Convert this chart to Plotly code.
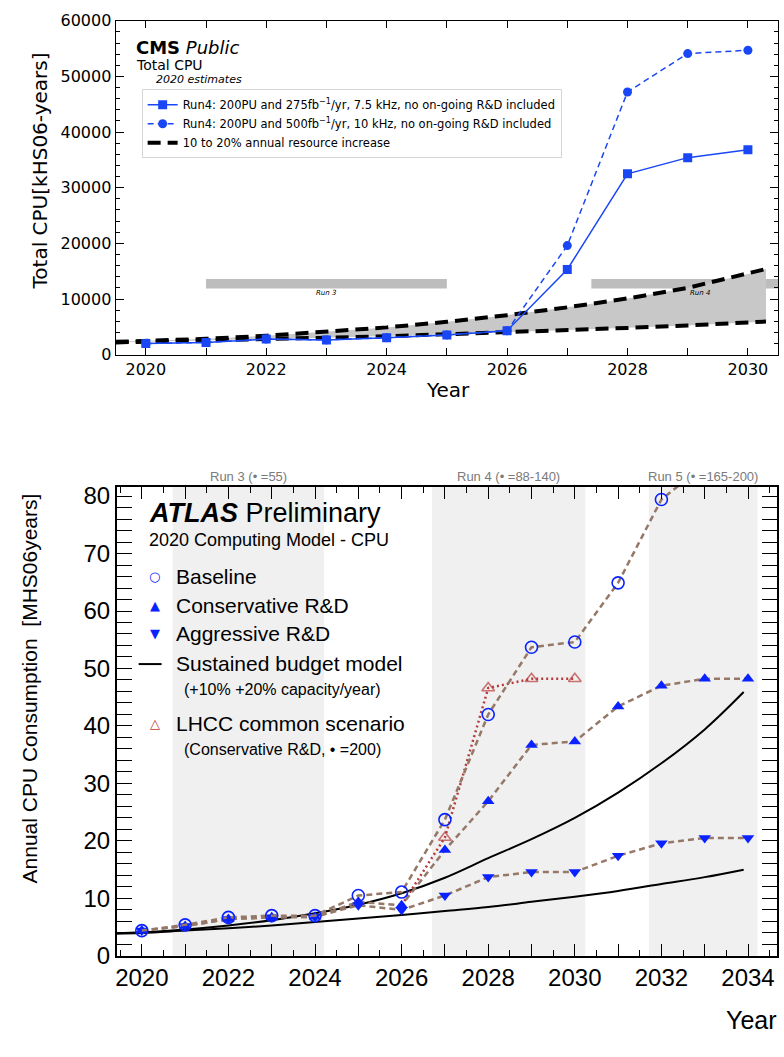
import plotly.graph_objects as go

# ---------------- CMS: total CPU (kHS06-years) ----------------
cms_years = [2020, 2021, 2022, 2023, 2024, 2025, 2026, 2027, 2028, 2029, 2030]
cms_275 = [2000, 2200, 2800, 2650, 3050, 3550, 4300, 15300, 32500, 35400, 36800]
cms_500 = [2000, 2200, 2800, 2650, 3050, 3550, 4300, 19600, 47200, 54100, 54700]

cms_budget_x = [2019.5, 2020, 2021, 2022, 2023, 2024, 2025, 2026, 2027, 2028, 2029, 2030, 2030.3]
cms_budget_hi = [2300, 2450, 2850, 3400, 4100, 4900, 5900, 7100, 8500, 10100, 12000, 14500, 15400]
cms_budget_lo = [2200, 2300, 2550, 2800, 3050, 3300, 3650, 4000, 4400, 4800, 5250, 5800, 5950]

cms_runs = ["Run 3", "Run 4"]
cms_run_start = [2021, 2027.4]
cms_run_end = [2025, 2030.5]
cms_run_label_x = [2023, 2029.2]
cms_run_band = [11900, 13600]

# ---------------- ATLAS: annual CPU consumption (MHS06*years) ----------------
atlas_years = [2020, 2021, 2022, 2023, 2024, 2025, 2026, 2027, 2028, 2029, 2030, 2031, 2032, 2033, 2034]
baseline_years = atlas_years[:14]
baseline = [4.4, 5.4, 6.7, 7.0, 7.0, 10.5, 11.1, 23.7, 42.0, 53.7, 54.6, 64.9, 79.4, 85.5]
conservative = [4.4, 5.2, 6.4, 6.7, 6.8, 9.4, 8.8, 18.4, 26.9, 36.7, 37.3, 43.4, 47.0, 48.2, 48.2]
aggressive = [4.4, 5.2, 6.4, 6.7, 6.8, 8.8, 8.0, 10.5, 13.7, 14.6, 14.6, 17.4, 19.6, 20.5, 20.5]
lhcc_years = [2026, 2027, 2028, 2029, 2030]
lhcc = [8.8, 20.6, 46.6, 48.2, 48.2]

budget_x = [2019.4, 2020, 2021, 2022, 2023, 2024, 2025, 2026, 2027, 2028, 2029, 2030,
            2031, 2032, 2033, 2033.9]
budget_hi = [3.9, 4.1, 4.6, 5.3, 6.2, 7.4, 8.9, 10.9, 13.6, 17.0, 20.3, 24.0,
             28.4, 33.5, 39.4, 45.9]
budget_lo = [3.9, 4.0, 4.4, 4.8, 5.3, 5.9, 6.5, 7.1, 7.8, 8.5, 9.4, 10.3,
             11.3, 12.5, 13.7, 15.0]

atlas_runs = ["Run 3 (\u2022 =55)", "Run 4 (\u2022 =88-140)", "Run 5 (\u2022 =165-200)"]
atlas_run_start = [2020.71, 2026.70, 2031.71]
atlas_run_end = [2024.21, 2030.24, 2034.22]

atlas_odd_years = [2021, 2023, 2025, 2027, 2029, 2031, 2033]

W, H = 784, 1057


def px(x):
    return x / W


def py(y):
    return 1 - y / H


CMS_FONT = "DejaVu Sans"
ATLAS_FONT = "Liberation Sans, Arial"
CMS_BLUE = "#1a47f5"
ATLAS_BLUE = "#0a22ff"
BROWN = "#957868"
LHCC_RED = "#b83a3a"

fig = go.Figure()

# --- CMS panel ---
fig.add_trace(go.Scatter(x=cms_budget_x, y=cms_budget_lo, mode="lines", line=dict(width=0),
                         showlegend=False, hoverinfo="skip", xaxis="x", yaxis="y"))
fig.add_trace(go.Scatter(x=cms_budget_x, y=cms_budget_hi, mode="lines", line=dict(width=0),
                         fill="tonexty", fillcolor="#c8c8c8", showlegend=False,
                         hoverinfo="skip", xaxis="x", yaxis="y"))
fig.add_trace(go.Scatter(x=cms_budget_x, y=cms_budget_lo, mode="lines",
                         line=dict(color="black", width=4, dash="13px,7px"),
                         showlegend=False, xaxis="x", yaxis="y"))
fig.add_trace(go.Scatter(x=cms_budget_x, y=cms_budget_hi, mode="lines",
                         line=dict(color="black", width=4, dash="13px,7px"),
                         name="10 to 20% annual resource increase", legendrank=3,
                         xaxis="x", yaxis="y"))
fig.add_trace(go.Scatter(x=cms_years, y=cms_500, mode="lines+markers",
                         line=dict(color=CMS_BLUE, width=1.5, dash="6px,4px"),
                         marker=dict(symbol="circle", size=9, color=CMS_BLUE),
                         name="Run4: 200PU and 500fb<sup>\u22121</sup>/yr, 10 kHz, no on-going R&D included",
                         legendrank=2, xaxis="x", yaxis="y"))
fig.add_trace(go.Scatter(x=cms_years, y=cms_275, mode="lines+markers",
                         line=dict(color=CMS_BLUE, width=1.5),
                         marker=dict(symbol="square", size=9, color=CMS_BLUE),
                         name="Run4: 200PU and 275fb<sup>\u22121</sup>/yr, 7.5 kHz, no on-going R&D included",
                         legendrank=1, xaxis="x", yaxis="y"))

shapes = []
annotations = []
for name, x0, x1, xl in zip(cms_runs, cms_run_start, cms_run_end, cms_run_label_x):
    shapes.append(dict(type="rect", xref="x", yref="y", x0=x0, x1=x1,
                       y0=cms_run_band[0], y1=cms_run_band[1],
                       fillcolor="#bdbdbd", line=dict(width=0), layer="below"))
    annotations.append(dict(xref="x", yref="y", x=xl, y=cms_run_band[0] - 900,
                            text=f"<i>{name}</i>", showarrow=False,
                            font=dict(family=CMS_FONT, size=7, color="black")))

# --- ATLAS panel ---
for name, x0, x1 in zip(atlas_runs, atlas_run_start, atlas_run_end):
    shapes.append(dict(type="rect", xref="x2", yref="y2 domain", x0=x0, x1=x1, y0=0, y1=1,
                       fillcolor="#f0f0f0", line=dict(width=0), layer="below"))
    annotations.append(dict(xref="x2", yref="paper", x=(x0 + x1) / 2, y=py(477), text=name,
                            showarrow=False, yanchor="middle",
                            font=dict(family=ATLAS_FONT, size=13, color="#7a7a7a")))

fig.add_trace(go.Scatter(x=budget_x, y=budget_hi, mode="lines", line=dict(color="black", width=2, shape="spline"),
                         showlegend=False, xaxis="x2", yaxis="y2"))
fig.add_trace(go.Scatter(x=budget_x, y=budget_lo, mode="lines", line=dict(color="black", width=2, shape="spline"),
                         showlegend=False, xaxis="x2", yaxis="y2"))
fig.add_trace(go.Scatter(x=lhcc_years, y=lhcc, mode="lines+markers",
                         line=dict(color=LHCC_RED, width=2.5, dash="2px,3px"),
                         marker=dict(symbol="triangle-up-open", size=[0, 11, 11, 11, 11], color=LHCC_RED,
                                     line=dict(width=1.6, color=LHCC_RED)),
                         showlegend=False, xaxis="x2", yaxis="y2"))
fig.add_trace(go.Scatter(x=atlas_years, y=aggressive, mode="lines+markers",
                         line=dict(color=BROWN, width=2.5, dash="6px,4px"),
                         marker=dict(symbol="triangle-down", size=11, color=ATLAS_BLUE),
                         showlegend=False, xaxis="x2", yaxis="y2"))
fig.add_trace(go.Scatter(x=atlas_years, y=conservative, mode="lines+markers",
                         line=dict(color=BROWN, width=2.5, dash="6px,4px"),
                         marker=dict(symbol="triangle-up", size=11, color=ATLAS_BLUE),
                         showlegend=False, xaxis="x2", yaxis="y2"))
fig.add_trace(go.Scatter(x=baseline_years, y=baseline, mode="lines+markers",
                         line=dict(color=BROWN, width=2.5, dash="6px,4px"),
                         marker=dict(symbol="circle-open", size=12, color=ATLAS_BLUE,
                                     line=dict(width=1.6, color=ATLAS_BLUE)),
                         showlegend=False, xaxis="x2", yaxis="y2"))
# empty trace so the odd-year tick axis is laid out
fig.add_trace(go.Scatter(x=[], y=[], showlegend=False, xaxis="x3", yaxis="y2"))

# --- CMS texts ---
annotations += [
    dict(xref="paper", yref="paper", x=px(132), y=py(39), xanchor="left", yanchor="middle",
         text="<b>CMS</b> <i>Public</i>", showarrow=False,
         font=dict(family=CMS_FONT, size=18, color="black")),
    dict(xref="paper", yref="paper", x=px(132), y=py(57), xanchor="left", yanchor="middle",
         text="Total CPU", showarrow=False, font=dict(family=CMS_FONT, size=14, color="black")),
    dict(xref="paper", yref="paper", x=px(152), y=py(72), xanchor="left", yanchor="middle",
         text="<i>2020 estimates</i>", showarrow=False, font=dict(family=CMS_FONT, size=11, color="black")),
    dict(xref="paper", yref="paper", x=px(38), y=py(165), textangle=-90, xanchor="center", yanchor="middle",
         text="Total CPU[kHS06-years]", showarrow=False, font=dict(family=CMS_FONT, size=20, color="black")),
    dict(xref="paper", yref="paper", x=px(447), y=py(389), xanchor="center", yanchor="middle",
         text="Year", showarrow=False, font=dict(family=CMS_FONT, size=20, color="black")),
]

# --- ATLAS texts and key ---
annotations += [
    dict(xref="paper", yref="paper", x=px(145), y=py(515), xanchor="left", yanchor="middle",
         text="<b><i>ATLAS</i></b> Preliminary", showarrow=False,
         font=dict(family=ATLAS_FONT, size=27, color="black")),
    dict(xref="paper", yref="paper", x=px(145), y=py(542), xanchor="left", yanchor="middle",
         text="2020 Computing Model - CPU", showarrow=False,
         font=dict(family=ATLAS_FONT, size=18, color="black")),
    dict(xref="paper", yref="paper", x=px(28), y=py(694), textangle=-90, xanchor="center", yanchor="middle",
         text="Annual CPU Consumption  [MHS06years]", showarrow=False,
         font=dict(family=ATLAS_FONT, size=21, color="black")),
    dict(xref="paper", yref="paper", x=px(779), y=py(1032), xanchor="right", yanchor="middle",
         text="Year", showarrow=False, font=dict(family=ATLAS_FONT, size=25, color="black")),
]

key_rows = [
    ("\u25CB", ATLAS_BLUE, "Baseline", 580),
    ("\u25B2", ATLAS_BLUE, "Conservative R&D", 609),
    ("\u25BC", ATLAS_BLUE, "Aggressive R&D", 638),
    (None, "black", "Sustained budget model", 668),
    ("\u25B3", LHCC_RED, "LHCC common scenario", 730),
]
for sym, col, label, yy in key_rows:
    if sym is None:
        shapes.append(dict(type="line", xref="paper", yref="paper", x0=px(137), x1=px(160),
                           y0=py(669), y1=py(669), line=dict(color="black", width=2)))
    else:
        annotations.append(dict(xref="paper", yref="paper", x=px(153), y=py(yy), xanchor="center",
                                yanchor="middle", text=sym, showarrow=False,
                                font=dict(family="DejaVu Sans", size=13, color=col)))
    annotations.append(dict(xref="paper", yref="paper", x=px(172), y=py(yy), xanchor="left",
                            yanchor="middle", text=label, showarrow=False,
                            font=dict(family=ATLAS_FONT, size=21, color="black")))
annotations += [
    dict(xref="paper", yref="paper", x=px(180), y=py(695), xanchor="left", yanchor="middle",
         text="(+10% +20% capacity/year)", showarrow=False,
         font=dict(family=ATLAS_FONT, size=16, color="black")),
    dict(xref="paper", yref="paper", x=px(180), y=py(756), xanchor="left", yanchor="middle",
         text="(Conservative R&D, \u2022 =200)", showarrow=False,
         font=dict(family=ATLAS_FONT, size=16, color="black")),
]

cms_axis = dict(showline=True, linecolor="black", linewidth=1.2, mirror="allticks",
                ticks="inside", tickcolor="black", showgrid=False, zeroline=False)
atlas_axis = dict(showline=True, linecolor="black", linewidth=1.6, mirror="allticks",
                  ticks="inside", tickcolor="black", showgrid=False, zeroline=False)
atlas_xrange = [2019.42, 2034.67]

fig.update_layout(
    width=W, height=H, margin=dict(l=0, r=0, t=0, b=0),
    paper_bgcolor="white", plot_bgcolor="white",
    showlegend=True,
    legend=dict(x=px(140), y=py(82), xanchor="left", yanchor="top", traceorder="normal",
                bgcolor="white", bordercolor="#d6d6d6", borderwidth=1,
                font=dict(family=CMS_FONT, size=11.5, color="black"),
                itemwidth=30, tracegroupgap=0),
    xaxis=dict(domain=[px(114), px(778)], range=[2019.5, 2030.5], anchor="y",
               tick0=2020, dtick=2, ticklen=7, tickwidth=1.2,
               minor=dict(dtick=1, tick0=2020, ticklen=7, tickwidth=1.2, tickcolor="black", ticks="inside"),
               tickfont=dict(family=CMS_FONT, size=16, color="black"), **cms_axis),
    yaxis=dict(domain=[py(353), py(12)], range=[0, 60000], anchor="x",
               tick0=0, dtick=10000, tickformat="d", ticklen=8, tickwidth=1.2,
               minor=dict(dtick=2000, ticklen=4, tickcolor="black", ticks="inside"),
               tickfont=dict(family=CMS_FONT, size=16, color="black"), **cms_axis),
    xaxis2=dict(domain=[px(115), px(777)], range=atlas_xrange, anchor="y2",
                tick0=2020, dtick=2, ticklen=12, tickwidth=1.4,
                minor=dict(dtick=0.5, tick0=2020, ticklen=6, tickcolor="black", ticks="inside"),
                tickfont=dict(family=ATLAS_FONT, size=24, color="black"), **atlas_axis),
    xaxis3=dict(overlaying="x2", anchor="y2", range=atlas_xrange, tickvals=atlas_odd_years,
                showticklabels=False, ticklen=12, tickwidth=1.4, **atlas_axis),
    yaxis2=dict(domain=[py(967), py(488)], range=[0, 81.6], anchor="x2",
                dtick=10, tick0=0, ticklen=15, tickwidth=1.4,
                minor=dict(dtick=2, ticklen=7, tickcolor="black", ticks="inside"),
                tickfont=dict(family=ATLAS_FONT, size=24, color="black"), **atlas_axis),
    shapes=shapes,
    annotations=annotations,
)

fig.write_html("out.html")
